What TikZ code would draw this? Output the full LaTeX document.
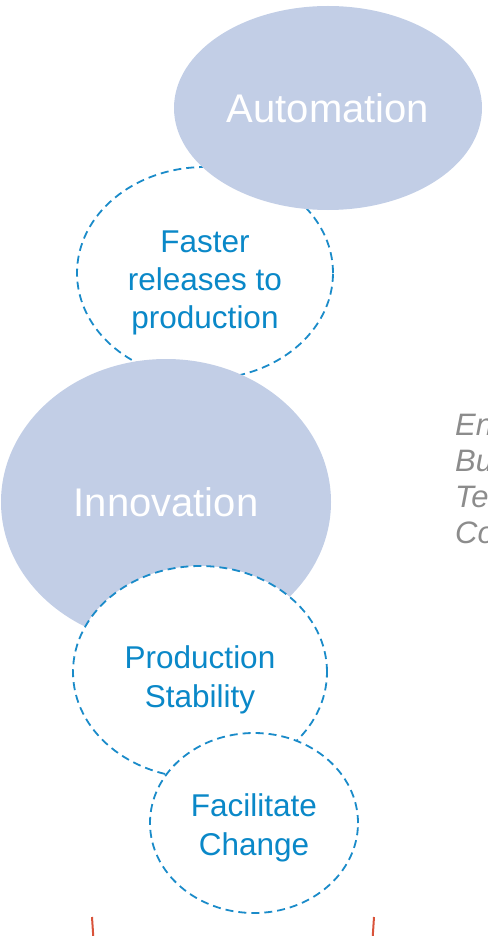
\documentclass[tikz,border=0pt]{standalone}
\usepackage{fontspec}
\setmainfont{Liberation Sans}
\usetikzlibrary{shapes.geometric}
\definecolor{fillblue}{HTML}{C2CEE6}
\definecolor{txtblue}{HTML}{0A88C8}
\definecolor{dashblue}{HTML}{1A8BC9}
\definecolor{graytxt}{HTML}{8C8C8C}
\definecolor{redline}{HTML}{D9533A}
\tikzset{
  bigoval/.style={ellipse, fill=fillblue, draw=none, inner sep=0pt},
  dashoval/.style={ellipse, fill=white, draw=dashblue, line width=1.8pt, dash pattern=on 8pt off 5pt, inner sep=0pt},
  bigtxt/.style={text=white, font=\fontsize{40}{48}\selectfont, inner sep=0pt, anchor=base},
  bluetxt/.style={text=txtblue, font=\fontsize{31.5}{38}\selectfont, inner sep=0pt, anchor=base},
  graytext/.style={text=graytxt, font=\itshape\fontsize{31}{36}\selectfont, inner sep=0pt, anchor=base west},
  redbar/.style={draw=redline, line width=2pt}
}
\begin{document}
\begin{tikzpicture}[x=1pt,y=-1pt]
\useasboundingbox (0,0) rectangle (487,936);
\clip (0,0) rectangle (487,936);
% Faster circle (behind Automation and Innovation)
\node[dashoval, minimum width=256pt, minimum height=212pt] (faster) at (205,273) {};
\node[bigoval, minimum width=308pt, minimum height=204pt] (auto) at (328,108) {};
\node[bigoval, minimum width=330pt, minimum height=286pt] (inno) at (166,502) {};
\node[dashoval, minimum width=254pt, minimum height=212pt] (prod) at (200,672) {};
\node[dashoval, minimum width=208pt, minimum height=180pt] (faci) at (254,823) {};
% texts
\node[bigtxt] (autot) at (328,123) {Automation};
\node[bigtxt] (innot) at (166,516) {Innovation};
\node[bluetxt] (f1) at (205,252) {Faster};
\node[bluetxt] (f2) at (205,290) {releases to};
\node[bluetxt] (f3) at (205,328) {production};
\node[bluetxt] (p1) at (200,668) {Production};
\node[bluetxt] (p2) at (200,707) {Stability};
\node[bluetxt] (c1) at (254,816) {Facilitate};
\node[bluetxt] (c2) at (254,855) {Change};
\node[graytext] (g1) at (455,435) {En};
\node[graytext] (g2) at (455,471) {Bu};
\node[graytext] (g3) at (455,507) {Te};
\node[graytext] (g4) at (455,543) {Co};
% red bars
\coordinate (r1a) at (92,917);
\coordinate (r1b) at (93.5,940);
\coordinate (r2a) at (374,917);
\coordinate (r2b) at (372.5,940);
\draw[redbar] (r1a) -- (r1b);
\draw[redbar] (r2a) -- (r2b);
\end{tikzpicture}
\end{document}
